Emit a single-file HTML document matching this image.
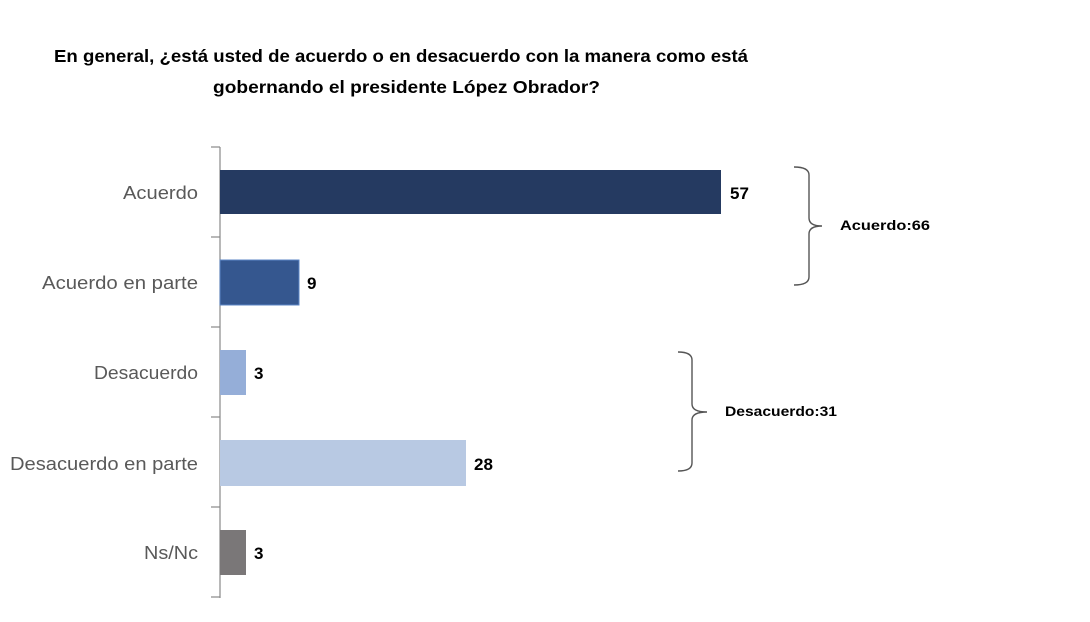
<!DOCTYPE html>
<html><head><style>body{margin:0;background:#fff}svg{display:block}</style></head>
<body>
<svg width="1090" height="622" xmlns="http://www.w3.org/2000/svg" font-family="Liberation Sans, sans-serif">
<rect width="1090" height="622" fill="#fff"/>
<text x="54" y="62" font-size="17.5" font-weight="bold" fill="#000" textLength="694" lengthAdjust="spacingAndGlyphs">En general, ¿está usted de acuerdo o en desacuerdo con la manera como está</text>
<text x="213" y="93" font-size="17.5" font-weight="bold" fill="#000" textLength="387" lengthAdjust="spacingAndGlyphs">gobernando el presidente López Obrador?</text>
<g stroke="#888" stroke-width="1.2">
<line x1="220" y1="147" x2="220" y2="598"/>
<line x1="211" y1="147" x2="220" y2="147"/><line x1="211" y1="237" x2="220" y2="237"/>
<line x1="211" y1="327" x2="220" y2="327"/><line x1="211" y1="417" x2="220" y2="417"/>
<line x1="211" y1="507" x2="220" y2="507"/><line x1="211" y1="597" x2="220" y2="597"/>
</g>
<rect x="220" y="170" width="501" height="44" fill="#253a61"/>
<rect x="220" y="260" width="79" height="45" fill="#35578f" stroke="#5b86c6" stroke-width="1"/>
<rect x="220" y="350" width="26" height="45" fill="#95aed8"/>
<rect x="220" y="440" width="246" height="46" fill="#b8c9e3"/>
<rect x="220" y="530" width="26" height="45" fill="#7a7778"/>
<g font-size="18" fill="#595959">
<text x="123" y="199" textLength="75" lengthAdjust="spacingAndGlyphs">Acuerdo</text>
<text x="42" y="289" textLength="156" lengthAdjust="spacingAndGlyphs">Acuerdo en parte</text>
<text x="94" y="379" textLength="104" lengthAdjust="spacingAndGlyphs">Desacuerdo</text>
<text x="10" y="470" textLength="188" lengthAdjust="spacingAndGlyphs">Desacuerdo en parte</text>
<text x="144" y="559" textLength="54" lengthAdjust="spacingAndGlyphs">Ns/Nc</text>
</g>
<g font-size="17" font-weight="bold" fill="#000">
<text x="730" y="199">57</text>
<text x="307" y="289">9</text>
<text x="254" y="379">3</text>
<text x="474" y="470">28</text>
<text x="254" y="559">3</text>
</g>
<g fill="none" stroke="#555" stroke-width="1.4">
<path d="M794,167 Q809,167 809,175 L809,218 Q809,226 822,226 Q809,226 809,234 L809,277 Q809,285 794,285"/>
<path d="M678,352 Q692,352 692,360 L692,404 Q692,412 707,412 Q692,412 692,420 L692,463 Q692,471 678,471"/>
</g>
<g font-size="13.5" font-weight="bold" fill="#000">
<text x="840" y="230" textLength="90" lengthAdjust="spacingAndGlyphs">Acuerdo:66</text>
<text x="725" y="416" textLength="112" lengthAdjust="spacingAndGlyphs">Desacuerdo:31</text>
</g>
</svg>
</body></html>
